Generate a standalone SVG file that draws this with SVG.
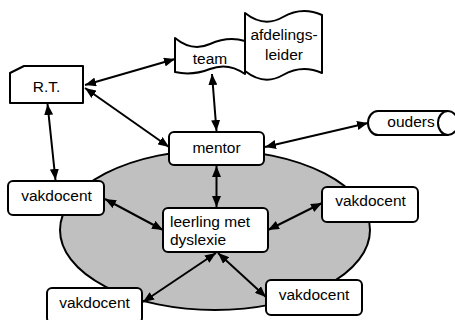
<svg xmlns="http://www.w3.org/2000/svg" width="455" height="320" viewBox="0 0 455 320">
<style>
.s{fill:#fff;stroke:#000;stroke-width:2;stroke-linejoin:round}
.t{font-family:"Liberation Sans",Arial,sans-serif;font-size:15.5px;fill:#000}
.m{text-anchor:middle}
.c{stroke:#000;stroke-width:2;fill:none;marker-start:url(#a);marker-end:url(#a)}
</style>
<defs>
<marker id="a" viewBox="0 0 11 9" refX="11" refY="4.5" markerWidth="11" markerHeight="9" markerUnits="userSpaceOnUse" orient="auto-start-reverse">
<path d="M0,0 L11,4.5 L0,9 Z" fill="#000"/>
</marker>
</defs>
<ellipse id="kring" cx="215" cy="230" rx="155" ry="80" fill="#c0c0c0" stroke="#000" stroke-width="2"/>
<g id="connectors">
<line class="c" x1="85" y1="85" x2="175" y2="59"/>
<line class="c" x1="85" y1="88" x2="169" y2="147"/>
<line class="c" x1="47.5" y1="104" x2="55.5" y2="180"/>
<line class="c" x1="212" y1="74" x2="216.5" y2="131"/>
<line class="c" x1="265" y1="147" x2="368" y2="123"/>
<line class="c" x1="216.5" y1="166" x2="216.5" y2="207"/>
<line class="c" x1="105" y1="199" x2="163" y2="230"/>
<line class="c" x1="268" y1="230" x2="322" y2="203"/>
<line class="c" x1="216" y1="253" x2="143" y2="302"/>
<line class="c" x1="218" y1="253" x2="266" y2="297"/>
</g>
<g id="rt">
<path class="s" d="M10,73 L24,66 L83,66 L83,103 L10,103 Z"/>
<text class="t m" x="46.5" y="91.5">R.T.</text>
</g>
<g id="team">
<path class="s" d="M175,38 Q192,52 210,44 Q228,36 245,41 L245,74 Q228,62 210,69 Q192,76 175,72 Z"/>
<text class="t m" x="210" y="64">team</text>
</g>
<g id="afdelingsleider">
<path class="s" d="M245,13 Q264,28 283,17 Q302,6 322,15 L322,73 Q302,64 283,75 Q264,86 245,71 Z"/>
<text class="t m" x="284" y="40">afdelings-</text>
<text class="t m" x="284" y="60">leider</text>
</g>
<g id="ouders">
<path class="s" d="M378,111 L448,111 A10,12 0 0 1 448,135 L378,135 A10,12 0 0 1 378,111 Z"/>
<path class="s" fill="none" d="M448,111 A10,12 0 0 0 448,135"/>
<text class="t m" x="411" y="127">ouders</text>
</g>
<g id="mentor">
<rect class="s" x="169" y="132" width="95" height="33" rx="5"/>
<text class="t m" x="216.5" y="152.5">mentor</text>
</g>
<g id="leerling">
<rect class="s" x="163" y="208" width="105" height="44" rx="5"/>
<text class="t" x="170" y="227">leerling met</text>
<text class="t" x="170" y="245">dyslexie</text>
</g>
<g id="vakdocent1">
<rect class="s" x="8" y="181" width="96" height="34" rx="5"/>
<text class="t m" x="56.5" y="201">vakdocent</text>
</g>
<g id="vakdocent2">
<rect class="s" x="322" y="187" width="96" height="35" rx="5"/>
<text class="t m" x="370.5" y="206">vakdocent</text>
</g>
<g id="vakdocent3">
<rect class="s" x="266" y="280" width="96" height="35" rx="5"/>
<text class="t m" x="314" y="300">vakdocent</text>
</g>
<g id="vakdocent4">
<rect class="s" x="47" y="288" width="95" height="35" rx="5"/>
<text class="t m" x="94.5" y="308">vakdocent</text>
</g>
</svg>
